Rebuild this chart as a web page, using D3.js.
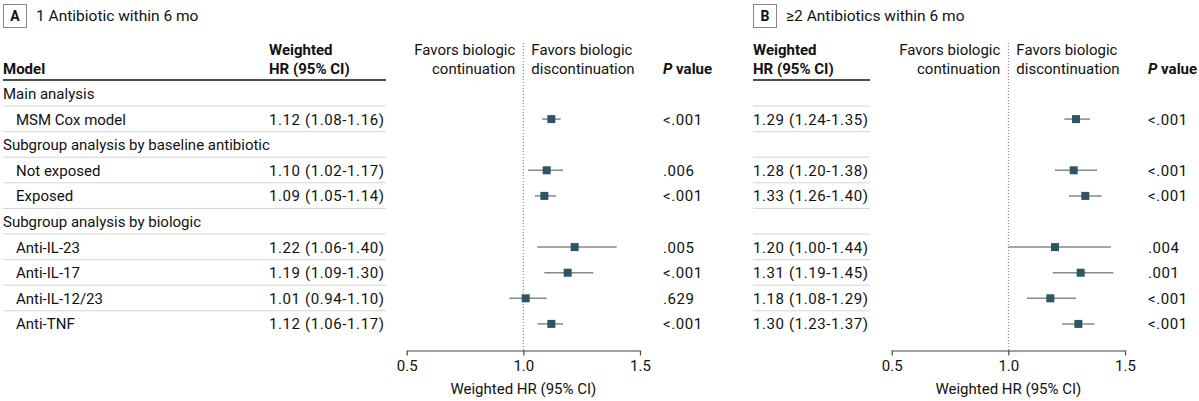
<!DOCTYPE html>
<html>
<head>
<meta charset="utf-8">
<title>Forest plot</title>
<script src="https://cdn.jsdelivr.net/npm/d3@7"></script>
<style>
  body { margin: 0; background: #fff; }
  text { font-family: Roboto, "Liberation Sans", sans-serif; font-size: 15px; fill: #111; }
  .num { letter-spacing: 0.6px; }
  .bold { font-weight: bold; }
</style>
</head>
<body>
<svg id="mainsvg" width="1199" height="401"></svg>
<script>
// rows of the table
const labels = ['Main analysis', 'MSM Cox model', 'Subgroup analysis by baseline antibiotic', 'Not exposed', 'Exposed',
  'Subgroup analysis by biologic', 'Anti-IL-23', 'Anti-IL-17', 'Anti-IL-12/23', 'Anti-TNF'];
const isGroup = [true, false, true, false, false, true, false, false, false, false];

// panel A: 1 antibiotic
const hrA = [null, 1.12, null, 1.10, 1.09, null, 1.22, 1.19, 1.01, 1.12];
const loA = [null, 1.08, null, 1.02, 1.05, null, 1.06, 1.09, 0.94, 1.06];
const hiA = [null, 1.16, null, 1.17, 1.14, null, 1.40, 1.30, 1.10, 1.17];
const pA = [null, '<.001', null, '.006', '<.001', null, '.005', '<.001', '.629', '<.001'];

// panel B: >=2 antibiotics
const hrB = [null, 1.29, null, 1.28, 1.33, null, 1.20, 1.31, 1.18, 1.30];
const loB = [null, 1.24, null, 1.20, 1.26, null, 1.00, 1.19, 1.08, 1.23];
const hiB = [null, 1.35, null, 1.38, 1.40, null, 1.44, 1.45, 1.29, 1.37];
const pB = [null, '<.001', null, '<.001', '<.001', null, '.004', '.001', '<.001', '<.001'];

const axisTicks = [0.5, 1.0, 1.5];

const svg = d3.select('svg');
const rowY = d3.scaleLinear().domain([0, labels.length - 1]).range([93.5, 93.5 + 25.6 * 9]);
const rowIdx = d3.range(labels.length);

function fmt(v) { return v.toFixed(2); }

function drawPanel(g, opts) {
  const { letter, title, hr, lo, hi, p, showModel, tableX0, hrX, pX, xStart } = opts;
  const xScale = d3.scaleLinear().domain([0.5, 1.5]).range([xStart, xStart + 233.3]);
  const axisY = 350.5;

  // panel tag
  g.append('rect').attr('x', tableX0 + 0.5).attr('y', 4.5).attr('width', 23).attr('height', 23)
    .attr('fill', 'none').attr('stroke', '#888').attr('stroke-width', 1);
  g.append('text').attr('class', 'bold').attr('x', tableX0 + 12).attr('y', 21)
    .attr('text-anchor', 'middle').style('font-size', '14px').text(letter);
  g.append('text').attr('x', tableX0 + 33).attr('y', 21).style('font-size', '15.5px').text(title);

  const lineX0 = showModel ? tableX0 : hrX;
  const lineX1 = hrX + 117;

  // headers
  if (showModel) g.append('text').attr('class', 'bold').attr('x', tableX0).attr('y', 74).text('Model');
  g.append('text').attr('class', 'bold').attr('x', hrX).attr('y', 54.5).text('Weighted');
  g.append('text').attr('class', 'bold').attr('x', hrX).attr('y', 74).text('HR (95% CI)');
  const x1 = xScale(1);
  g.append('text').attr('x', x1 - 8).attr('y', 55).attr('text-anchor', 'end').text('Favors biologic');
  g.append('text').attr('x', x1 - 8).attr('y', 74).attr('text-anchor', 'end').text('continuation');
  g.append('text').attr('x', x1 + 8).attr('y', 55).text('Favors biologic');
  g.append('text').attr('x', x1 + 8).attr('y', 74).text('discontinuation');
  const ph = g.append('text').attr('class', 'bold').attr('x', pX).attr('y', 74);
  ph.append('tspan').style('font-style', 'italic').text('P');
  ph.append('tspan').text(' value');

  g.append('line').attr('x1', lineX0).attr('x2', lineX1).attr('y1', 80).attr('y2', 80)
    .attr('stroke', '#111').attr('stroke-width', 1.5);

  // row separators
  g.selectAll('.sep').data(rowIdx.slice(0, -1)).join('line').attr('class', 'sep')
    .attr('x1', lineX0).attr('x2', lineX1)
    .attr('y1', i => rowY(i) + 12.5).attr('y2', i => rowY(i) + 12.5)
    .attr('stroke', '#d4d4d4').attr('stroke-width', 1);

  // labels
  if (showModel) {
    g.selectAll('.lab').data(rowIdx).join('text').attr('class', 'lab')
      .attr('x', i => tableX0 + (isGroup[i] ? 0 : 13))
      .attr('y', i => rowY(i) + 5.5).text(i => labels[i]);
  }

  const est = rowIdx.filter(i => hr[i] != null);

  g.selectAll('.hr').data(est).join('text').attr('class', 'hr num')
    .attr('x', hrX).attr('y', i => rowY(i) + 5.5)
    .text(i => `${fmt(hr[i])} (${fmt(lo[i])}-${fmt(hi[i])})`);

  g.selectAll('.pv').data(est).join('text').attr('class', 'pv num')
    .attr('x', pX).attr('y', i => rowY(i) + 5.5).text(i => p[i]);

  // reference line
  g.append('line').attr('x1', x1).attr('x2', x1).attr('y1', 43).attr('y2', axisY)
    .attr('stroke', '#777').attr('stroke-width', 1).attr('stroke-dasharray', '1,2');

  // CI lines and markers
  g.selectAll('.ci').data(est).join('line').attr('class', 'ci')
    .attr('x1', i => xScale(lo[i])).attr('x2', i => xScale(hi[i]))
    .attr('y1', i => rowY(i)).attr('y2', i => rowY(i))
    .attr('stroke', '#888').attr('stroke-width', 1.5);
  g.selectAll('.pt').data(est).join('rect').attr('class', 'pt')
    .attr('x', i => xScale(hr[i]) - 4).attr('y', i => rowY(i) - 4)
    .attr('width', 8).attr('height', 8).attr('fill', '#2c5565');

  // axis
  const axis = d3.axisBottom(xScale).tickValues(axisTicks).tickFormat(d3.format('.1f'))
    .tickSize(5).tickSizeOuter(0);
  const ag = g.append('g').attr('transform', `translate(0, ${axisY})`).call(axis);
  ag.select('.domain').attr('stroke', '#444').attr('stroke-width', 1.2);
  ag.selectAll('.tick line').attr('stroke', '#444').attr('stroke-width', 1.2);
  ag.selectAll('.tick text').attr('dy', null).attr('y', 20)
    .style('font-size', '15px').style('fill', '#111').style('font-family', 'Roboto, sans-serif');
  g.append('text').attr('x', x1).attr('y', 394).attr('text-anchor', 'middle').text('Weighted HR (95% CI)');
}

drawPanel(svg.append('g'), {
  letter: 'A', title: '1 Antibiotic within 6 mo', hr: hrA, lo: loA, hi: hiA, p: pA,
  showModel: true, tableX0: 3, hrX: 269, pX: 663, xStart: 406.7
});
drawPanel(svg.append('g'), {
  letter: 'B', title: '≥2 Antibiotics within 6 mo', hr: hrB, lo: loB, hi: hiB, p: pB,
  showModel: false, tableX0: 753, hrX: 753, pX: 1148, xStart: 891.7
});
</script>
</body>
</html>
